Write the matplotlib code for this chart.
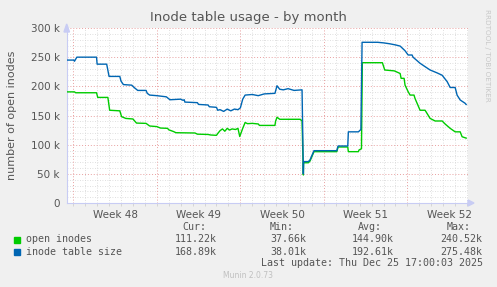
import numpy as np
import matplotlib
matplotlib.use("Agg")
import matplotlib.pyplot as plt

# days counted from the start of week 48, values in thousands
table_days = [-0.55, 0.05, 0.1, 0.3, 1.95, 2.0, 2.8, 3.0, 3.9, 4.0, 4.2, 4.9, 5.1, 5.4, 6.1, 6.2,
              6.4, 7.0, 7.8, 8.1, 9.0, 9.2, 9.3, 9.35, 10.4, 10.5, 11.3, 11.4, 12.0, 12.1, 12.3,
              12.6, 12.9, 13.2, 13.5, 13.8, 14.0, 14.2, 14.4, 15.0, 15.5, 16.0, 16.9, 17.07,
              17.3, 17.6, 18.0, 18.5, 19.17, 19.28, 19.3, 19.7, 19.84, 20.17, 22.08, 22.19,
              23.0, 23.05, 23.89, 24.1, 24.2, 25.5, 26.0, 26.5, 27.0, 27.39, 27.8, 28.06,
              28.39, 28.47, 29.06, 29.48, 29.9, 30.49, 30.91, 31.33, 31.58, 32.0, 32.16,
              32.42, 32.83, 32.92]
table_size = [245, 245, 243, 250, 250, 238, 238, 217, 217, 209, 203, 202, 198, 193, 193, 188,
              185, 184, 182, 177, 178, 176, 177, 173, 172, 169, 168, 165, 164, 159, 160,
              157, 161, 158, 161, 160, 163, 178, 185, 186, 184, 187, 188, 201,
              195, 194, 196, 193, 194, 50, 71, 71, 74, 89.7, 89.7, 97.7,
              97.7, 122, 122, 126, 275.5, 275.5, 274.5, 273, 271, 269, 261, 253.7,
              253.7, 250, 239.5, 233.7, 228, 223, 219, 208, 198, 198, 185,
              176.6, 171, 168.9]

open_days = [-0.55, 0.1, 0.2, 1.95, 2.05, 2.9, 3.05, 3.9, 4.05, 4.4, 5.0, 5.3, 6.1, 6.4, 7.0,
             7.3, 7.9, 8.0, 8.4, 8.6, 10.2, 10.4, 11.3, 11.5, 12.0, 12.1, 12.3, 12.5, 12.7,
             12.9, 13.1, 13.3, 13.6, 13.8, 13.95, 14.2, 14.4, 14.6, 15.0, 15.5, 15.6, 16.9,
             16.95, 17.07, 17.3, 19.0, 19.17, 19.28, 19.3, 19.7, 19.84, 20.17, 22.08, 22.19,
             23.0, 23.05, 23.89, 23.95, 24.15, 24.22, 25.9, 26.1, 26.9, 27.39, 27.47, 27.72,
             27.8, 28.06, 28.22, 28.55, 28.64, 29.06, 29.48, 29.9, 30.32, 30.91, 31.16,
             31.58, 32.0, 32.42, 32.58, 32.92]
open_inodes = [190.5, 190.5, 189, 189, 181, 181, 159, 158, 148, 145, 144, 137, 136.5, 132, 131,
               128.5, 128, 125.5, 122.5, 120.5, 120, 118, 117.5, 116.6, 116, 119, 124, 127, 123,
               128, 125, 127, 126, 128, 114, 128, 138, 136, 136.5, 135.5, 133, 133,
               140, 147, 143.5, 143.5, 141, 48, 69, 69, 72, 88, 88, 96,
               96, 88, 88, 91, 93, 240.5, 240.5, 228, 226.5, 222, 213.7, 213.7,
               202, 190.8, 185, 185, 179, 159, 159, 145, 140.6, 140.6, 135.4,
               128, 122, 122, 113.6, 111.2]

week_pos = [3.5, 10.5, 17.5, 24.5, 31.5]
week_labels = ["Week 48", "Week 49", "Week 50", "Week 51", "Week 52"]
y_ticks = [0, 50, 100, 150, 200, 250, 300]
y_labels = ["0", "50 k", "100 k", "150 k", "200 k", "250 k", "300 k"]

legend_names = ["open inodes", "inode table size"]
legend_colors = ["#00CC00", "#0066B3"]
cur_vals = ["111.22k", "168.89k"]
min_vals = ["37.66k", "38.01k"]
avg_vals = ["144.90k", "192.61k"]
max_vals = ["240.52k", "275.48k"]

W, H = 497, 287
fig = plt.figure(figsize=(W / 100, H / 100), dpi=100, facecolor="#F0F0F0")
ax = fig.add_axes([66.7 / W, 1 - 203 / H, (468.3 - 66.7) / W, 175 / H])
ax.set_facecolor("white")
ax.set_xlim(-0.55, 33.1)
ax.set_ylim(0, 300)

# grid, minor first then major
for d in range(0, 34):
    if d % 7:
        ax.axvline(d, color="#D5D5D5", lw=0.6, ls=(0, (1, 2)), zorder=0)
for v in range(10, 300, 10):
    if v % 50:
        ax.axhline(v, color="#D5D5D5", lw=0.6, ls=(0, (1, 2)), zorder=0)
for d in range(0, 34, 7):
    ax.axvline(d, color="#E8A0A0", lw=0.7, ls=(0, (1, 2)), zorder=0)
for v in range(50, 301, 50):
    ax.axhline(v, color="#E8A0A0", lw=0.7, ls=(0, (1, 2)), zorder=0)

ax.plot(open_days, open_inodes, color=legend_colors[0], lw=1.0, zorder=3)
ax.plot(table_days, table_size, color=legend_colors[1], lw=1.0, zorder=3)

for s in ["top", "right"]:
    ax.spines[s].set_visible(False)
for s in ["left", "bottom"]:
    ax.spines[s].set_color("#C8CCF4")
    ax.spines[s].set_linewidth(0.8)

ax.set_xticks(week_pos)
ax.set_xticklabels(week_labels)
ax.set_xticks(range(0, 34), minor=True)
ax.set_yticks(y_ticks)
ax.set_yticklabels(y_labels)
ax.tick_params(length=0, labelsize=7.5, labelcolor="#555555", pad=5)
ax.tick_params(axis="x", which="minor", length=2, color="#D0D0D0", width=0.6)

# axis arrows
fig.patches.append(plt.Polygon([[64 / W, 1 - 32 / H], [69.5 / W, 1 - 32 / H], [66.7 / W, 1 - 24 / H]],
                               closed=True, transform=fig.transFigure, color="#C8CCF4"))
fig.patches.append(plt.Polygon([[468 / W, 1 - 200 / H], [468 / W, 1 - 206 / H], [474 / W, 1 - 203 / H]],
                               closed=True, transform=fig.transFigure, color="#C8CCF4"))

fig.text(248 / W, 1 - 18 / H, "Inode table usage - by month", ha="center", va="center",
         fontsize=9.5, color="#555555")
fig.text(12 / W, 1 - 115 / H, "number of open inodes", rotation=90, ha="center", va="center",
         fontsize=8, color="#555555")
fig.text(487 / W, 1 - 55 / H, "RRDTOOL / TOBI OETIKER", rotation=270, ha="center", va="center",
         fontsize=5.2, color="#C8C8C8")

mono = dict(family="DejaVu Sans Mono", fontsize=7.2, color="#555555", va="center")
for x, t in zip([182, 270, 358, 447], ["Cur:", "Min:", "Avg:", "Max:"]):
    fig.text(x / W, 1 - 227 / H, t, ha="left", **mono)
for i, yy in enumerate([239.5, 251.7]):
    fig.patches.append(plt.Rectangle((14 / W, 1 - (yy + 3) / H), 6 / W, 6 / H,
                                     transform=fig.transFigure, color=legend_colors[i]))
    fig.text(26 / W, 1 - yy / H, legend_names[i], ha="left", **mono)
    for x, vals in zip([216.7, 306, 394, 482.7], [cur_vals, min_vals, avg_vals, max_vals]):
        fig.text(x / W, 1 - yy / H, vals[i], ha="right", **mono)
fig.text(482.7 / W, 1 - 263.5 / H, "Last update: Thu Dec 25 17:00:03 2025", ha="right", **mono)
fig.text(248 / W, 1 - 276 / H, "Munin 2.0.73", ha="center", va="center", fontsize=5.5,
         color="#C0C0C0")

fig.savefig("out.png", dpi=100, facecolor=fig.get_facecolor())
